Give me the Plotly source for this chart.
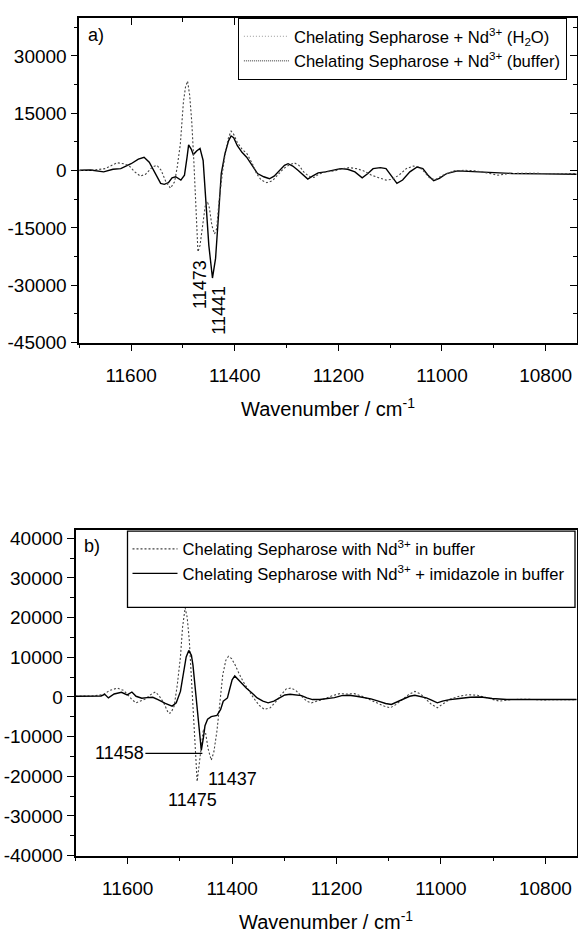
import plotly.graph_objects as go

# ---------------- Panel a data ----------------
a_solid_x = [11700, 11678, 11653, 11635, 11620, 11600, 11586, 11575, 11565, 11558, 11550, 11543, 11536,
             11528, 11521, 11514, 11504, 11497, 11492, 11489, 11484, 11480, 11473, 11467, 11461, 11456,
             11450, 11443, 11437, 11431, 11426, 11419, 11412, 11407, 11402, 11395, 11386, 11377, 11366,
             11356, 11344, 11333, 11324, 11313, 11304, 11297, 11288, 11278, 11267, 11259, 11250, 11239,
             11225, 11211, 11196, 11182, 11168, 11154, 11143, 11133, 11119, 11108, 11097, 11087, 11076,
             11062, 11048, 11037, 11027, 11016, 11005, 10991, 10970, 10935, 10899, 10864, 10807, 10740]
a_solid_y = [85, 170, -340, 340, 510, 1800, 3000, 3500, 2200, 510, -1620, -3330, -3590,
             -3160, -1880, -1620, -2480, -1200, 3500, 6750, 5640, 4190, 5210, 5810, 2650, -7600,
             -19570, -28120, -22990, -11030, -770, 4360, 7780, 9060, 8630, 6500, 4790, 3500, 1370,
             -770, -1620, -2140, -1450, 85, 1370, 1800, 1200, 85, -1200, -2220, -1450, -600,
             -340, 85, 510, 340, -340, -1880, -770, 510, 770, 510, -1620, -3330, -2480,
             -340, 940, 510, -1200, -2650, -2050, -770, -85, -340, -600, -770, -850, -940]

a_dot_x = [11700, 11671, 11650, 11635, 11627, 11614, 11604, 11593, 11582, 11572, 11559, 11550, 11542,
           11533, 11524, 11516, 11511, 11505, 11499, 11495, 11491, 11487, 11483, 11479, 11475, 11471,
           11467, 11462, 11457, 11453, 11449, 11444, 11439, 11435, 11430, 11424, 11418, 11412, 11407,
           11402, 11395, 11386, 11376, 11366, 11358, 11349, 11338, 11327, 11317, 11306, 11296, 11285,
           11276, 11267, 11257, 11247, 11238, 11225, 11207, 11193, 11179, 11165, 11151, 11136, 11122,
           11108, 11097, 11083, 11069, 11055, 11044, 11034, 11023, 11012, 10998, 10977, 10956, 10935,
           10913, 10892, 10871, 10828, 10779, 10740]
a_dot_y = [0, 170, 510, 1620, 2050, 1800, 1280, -340, -1450, -940, 940, 1370, 85,
           -2900, -4620, -2900, 940, 6920, 18030, 21880, 23420, 19740, 12900, 2650, -11030, -21280,
           -19570, -14440, -9320, -8030, -9740, -14440, -16580, -15300, -7610, -770, 4790, 8630, 10340,
           9490, 7350, 5640, 4360, 1800, -770, -2480, -3160, -2650, -1200, 510, 1370, 2050,
           1370, -340, -1450, -1800, -940, -340, -85, 510, 770, 510, -85, -1200, -1880,
           -2480, -2310, -1200, 510, 1200, 940, -340, -2050, -2310, -1200, -85, 85, -85,
           -600, -1200, -770, -680, -850, -770]

# ---------------- Panel b data ----------------
b_solid_x = [11700, 11668, 11651, 11644, 11637, 11626, 11612, 11601, 11592, 11584, 11573, 11563, 11552,
             11542, 11528, 11515, 11507, 11499, 11492, 11488, 11483, 11478, 11475, 11471, 11466, 11462,
             11459, 11455, 11452, 11447, 11440, 11429, 11422, 11417, 11409, 11405, 11400, 11395, 11391,
             11383, 11373, 11362, 11352, 11341, 11331, 11320, 11310, 11299, 11289, 11278, 11267, 11257,
             11246, 11232, 11218, 11204, 11190, 11176, 11162, 11148, 11134, 11120, 11106, 11095, 11085,
             11071, 11060, 11050, 11039, 11028, 11018, 11007, 10997, 10986, 10965, 10944, 10923, 10902,
             10874, 10839, 10804, 10740]
b_solid_y = [165, 165, 250, 660, -250, 740, 1160, 500, 1240, 165, -330, -165, -80,
             -660, -1650, -2310, -1490, 1400, 6770, 10080, 11730, 10490, 8010, 2640, -5620, -10570,
             -13460, -10240, -7270, -5620, -4960, -4630, -3140, -1070, -250, 1820, 4300, 5290, 4710,
             3470, 2230, 990, -250, -1070, -1490, -1070, -250, 500, 660, 500, 330, -250,
             -660, -660, -410, -165, 330, 410, 165, -80, -500, -1070, -1650, -1900, -1320,
             -500, 165, 410, 165, -250, -830, -1490, -1070, -740, -410, -80, 0, -410,
             -660, -580, -660, -660]

b_dot_x = [11700, 11668, 11647, 11634, 11620, 11608, 11600, 11592, 11584, 11575, 11566, 11556, 11547,
           11540, 11531, 11522, 11517, 11511, 11505, 11499, 11495, 11490, 11486, 11482, 11478, 11473,
           11470, 11467, 11464, 11459, 11455, 11451, 11446, 11440, 11435, 11429, 11424, 11418, 11412,
           11407, 11401, 11394, 11387, 11379, 11369, 11359, 11348, 11338, 11327, 11317, 11306, 11296,
           11287, 11278, 11267, 11257, 11248, 11236, 11222, 11208, 11194, 11180, 11166, 11151, 11137,
           11123, 11109, 11097, 11086, 11074, 11062, 11050, 11039, 11028, 11018, 11007, 10997, 10982,
           10965, 10948, 10930, 10909, 10888, 10867, 10839, 10804, 10740]
b_dot_y = [165, 250, 580, 1650, 2230, 1650, 580, -660, -1490, -1070, -500, 580, 1240,
           330, -1490, -4130, -3960, -2310, 3060, 10080, 17510, 22470, 19990, 14210, 4300, -7270,
           -17180, -21310, -18010, -12220, -8090, -8920, -13050, -15940, -13880, -8510, -1490, 5530, 9250,
           10240, 9660, 8010, 5950, 3880, 1820, -250, -2150, -3140, -2730, -1320, 580, 2070,
           2230, 1650, 165, -1070, -1490, -1070, -410, 330, 830, 740, 830, 165, -660,
           -1490, -2310, -2730, -1900, -660, 580, 1400, 740, -660, -1900, -2730, -1900, -500,
           165, 580, 410, -250, -1070, -660, -580, -740, -660]

# ---------------- Labels / ticks ----------------
a_names = ["Chelating Sepharose + Nd<sup>3+</sup> (H<sub>2</sub>O)",
           "Chelating Sepharose + Nd<sup>3+</sup> (buffer)"]
b_names = ["Chelating Sepharose with Nd<sup>3+</sup> in buffer",
           "Chelating Sepharose with Nd<sup>3+</sup> + imidazole in buffer"]
a_yticks = [-45000, -30000, -15000, 0, 15000, 30000]
b_yticks = [-40000, -30000, -20000, -10000, 0, 10000, 20000, 30000, 40000]
x_title = "Wavenumber / cm<sup>-1</sup>"
a_peaks = ["11473", "11441"]
b_peaks = ["11458", "11437", "11475"]

FONT = "Liberation Sans, Arial, sans-serif"
W, H = 578, 936


def px(x):
    return x / W


def py(y):
    return 1 - y / H


fig = go.Figure()

# panel a real traces
fig.add_trace(go.Scatter(x=a_solid_x, y=a_solid_y, mode="lines", name="H2O",
                         line=dict(color="black", width=1.4), showlegend=False,
                         xaxis="x", yaxis="y"))
fig.add_trace(go.Scatter(x=a_dot_x, y=a_dot_y, mode="lines", name="buffer",
                         line=dict(color="#444", width=1.1, dash="2px,2px"), showlegend=False,
                         xaxis="x", yaxis="y"))
# panel a legend entries (dotted samples, as printed in the original legend)
fig.add_trace(go.Scatter(x=[None], y=[None], mode="lines", name=a_names[0],
                         line=dict(color="#999", width=1, dash="1px,2px"),
                         legend="legend", xaxis="x", yaxis="y"))
fig.add_trace(go.Scatter(x=[None], y=[None], mode="lines", name=a_names[1],
                         line=dict(color="#333", width=1, dash="1px,1px"),
                         legend="legend", xaxis="x", yaxis="y"))
# host for inner mirror ticks of panel a
fig.add_trace(go.Scatter(x=[None], y=[None], mode="lines", showlegend=False,
                         xaxis="x3", yaxis="y3", hoverinfo="skip"))

# panel b traces
fig.add_trace(go.Scatter(x=b_dot_x, y=b_dot_y, mode="lines", name=b_names[0],
                         line=dict(color="#444", width=1.1, dash="2px,2px"),
                         legend="legend2", xaxis="x2", yaxis="y2"))
fig.add_trace(go.Scatter(x=b_solid_x, y=b_solid_y, mode="lines", name=b_names[1],
                         line=dict(color="black", width=1.4),
                         legend="legend2", xaxis="x2", yaxis="y2"))

TICKSIZE = 19
LEGSIZE = 16.6
xr = [11700, 10740]
common_x = dict(range=xr, tick0=10800, dtick=200, tickformat="d", ticks="outside",
                ticklen=7, tickwidth=1.2, tickcolor="black", showline=True, linecolor="black",
                linewidth=1.6, mirror=True, showgrid=False, zeroline=False,
                ticklabelstandoff=8,
                minor=dict(dtick=100, tick0=10800, ticks="outside", ticklen=4, tickcolor="black",
                           tickwidth=1.2),
                tickfont=dict(size=TICKSIZE, color="black", family=FONT),
                title=dict(text=x_title, font=dict(size=20, color="black", family=FONT), standoff=17))

fig.update_layout(
    width=W, height=H, margin=dict(l=0, r=0, t=0, b=0),
    paper_bgcolor="white", plot_bgcolor="white",
    font=dict(family=FONT, color="black"),
    xaxis=dict(domain=[px(79.3), px(576.7)], anchor="y", **common_x),
    yaxis=dict(domain=[py(345.3), py(16)], anchor="x", range=[-45000, 40000],
               tickvals=a_yticks, ticktext=[str(v) for v in a_yticks],
               ticks="outside", ticklen=7, tickwidth=1.2, tickcolor="black",
               minor=dict(dtick=7500, tick0=0, ticks="outside", ticklen=4, tickcolor="black",
                          tickwidth=1.2),
               showline=True, linecolor="black", linewidth=1.6, mirror=True,
               showgrid=False, zeroline=False,
               tickfont=dict(size=TICKSIZE, color="black", family=FONT)),
    xaxis3=dict(overlaying="x", side="top", anchor="y3", range=xr, tick0=10800, dtick=200,
                ticks="inside", ticklen=7, tickwidth=1.2, tickcolor="black",
                minor=dict(dtick=100, tick0=10800, ticks="inside", ticklen=4, tickcolor="black"),
                showticklabels=False, showline=False, showgrid=False, zeroline=False),
    yaxis3=dict(overlaying="y", side="right", anchor="x3", range=[-45000, 40000],
                tickvals=a_yticks, ticks="inside", ticklen=7, tickwidth=1.2, tickcolor="black",
                minor=dict(dtick=7500, tick0=0, ticks="inside", ticklen=4, tickcolor="black"),
                showticklabels=False, showline=False, showgrid=False, zeroline=False),
    xaxis2=dict(domain=[px(75.5), px(576.7)], anchor="y2", **common_x),
    yaxis2=dict(domain=[py(865.7), py(535.7)], anchor="x2", range=[-40000, 42000],
                tickvals=b_yticks, ticktext=[str(v) for v in b_yticks],
                ticks="outside", ticklen=7, tickwidth=1.2, tickcolor="black",
                minor=dict(dtick=5000, tick0=0, ticks="outside", ticklen=4, tickcolor="black",
                           tickwidth=1.2),
                showline=True, linecolor="black", linewidth=1.6, mirror=True,
                showgrid=False, zeroline=False,
                tickfont=dict(size=TICKSIZE, color="black", family=FONT)),
    legend=dict(x=px(566.7), xanchor="right", y=py(16), yanchor="top",
                bgcolor="white", bordercolor="black", borderwidth=1.2,
                font=dict(size=LEGSIZE, color="black", family=FONT), itemwidth=45,
                tracegroupgap=0),
    legend2=dict(x=px(127.5), xanchor="left", y=py(537), yanchor="top",
                 bgcolor="rgba(0,0,0,0)", borderwidth=0,
                 font=dict(size=LEGSIZE, color="black", family=FONT), itemwidth=45,
                 tracegroupgap=0),
)

# frame of the panel b legend (taller than plotly's own legend box)
fig.add_shape(type="rect", xref="paper", yref="paper",
              x0=px(127.5), x1=px(575), y0=py(614), y1=py(536.5),
              fillcolor="white", line=dict(color="black", width=1.3), layer="above")

ann_font = dict(size=18, color="black", family=FONT)
fig.add_annotation(text="a)", xref="paper", yref="paper", x=px(86), y=py(33),
                   xanchor="left", yanchor="middle", showarrow=False, font=ann_font)
fig.add_annotation(text="b)", xref="paper", yref="paper", x=px(82), y=py(552),
                   xanchor="left", yanchor="middle", showarrow=False, font=ann_font)
fig.add_annotation(text=a_peaks[0], xref="x", yref="y", x=11466, y=-29800, textangle=-90,
                   showarrow=False, font=ann_font)
fig.add_annotation(text=a_peaks[1], xref="x", yref="y", x=11431, y=-36500, textangle=-90,
                   showarrow=False, font=ann_font)
fig.add_annotation(text=b_peaks[0], xref="x2", yref="y2", x=11457, y=-14200,
                   showarrow=True, arrowhead=0, arrowwidth=1.2, arrowcolor="black",
                   ax=-83, ay=0, standoff=0, font=ann_font)
fig.add_annotation(text=b_peaks[1], xref="x2", yref="y2", x=11400, y=-20800,
                   showarrow=False, font=ann_font)
fig.add_annotation(text=b_peaks[2], xref="x2", yref="y2", x=11475, y=-26000,
                   showarrow=False, font=ann_font)

fig.write_html("out.html")
